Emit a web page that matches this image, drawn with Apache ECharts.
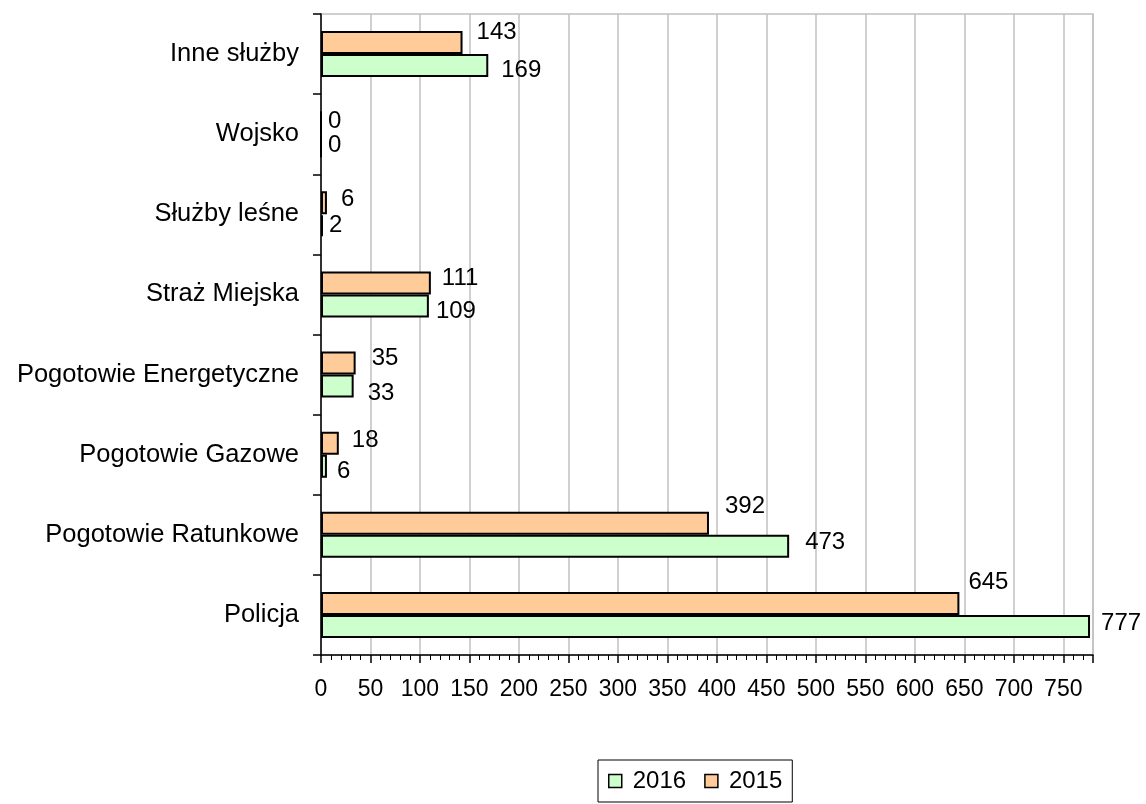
<!DOCTYPE html>
<html>
<head>
<meta charset="utf-8">
<script src="https://cdn.jsdelivr.net/npm/echarts@6/dist/echarts.min.js"></script>
<style>
html,body{margin:0;padding:0;background:#fff;}
#chart{width:1146px;height:804px;}
</style>
</head>
<body>
<div id="chart"></div>
<script>
// Categories listed bottom-to-top (ECharts category y axis starts at the bottom)
const categories = ['Policja', 'Pogotowie Ratunkowe', 'Pogotowie Gazowe', 'Pogotowie Energetyczne', 'Straż Miejska', 'Służby leśne', 'Wojsko', 'Inne służby'];
const values2016 = [777, 473, 6, 33, 109, 2, 0, 169];
const values2015 = [645, 392, 18, 35, 111, 6, 0, 143];
const seriesNames = ['2016', '2015'];
const xTickInterval = 50;
const xMax = 780;

// label placement tweaks (dx from bar end, dy from bar centre), same order as categories
const labelOffset2016 = [[11,-3],[16,-3.5],[10,5.5],[14,7],[7,5.5],[6,0],[6,0],[13,4.5]];
const labelOffset2015 = [[9,-21],[16,-16.5],[13,-2.5],[16,-5],[11,-5],[14,-3],[6,-1],[14,-10]];

const FONT = "'Liberation Sans', Arial, sans-serif";

function withLabels(values, offsets) {
  return values.map((v, i) => ({ value: v, label: { offset: offsets[i] } }));
}

const chart = echarts.init(document.getElementById('chart'), null, { renderer: 'canvas' });

const barLabel = {
  show: true,
  position: 'right',
  distance: 0,
  color: '#000',
  fontSize: 24,
  fontFamily: FONT
};

chart.setOption({
  animation: false,
  backgroundColor: '#fff',
  textStyle: { fontFamily: FONT },
  grid: {
    left: 321, right: 53, top: 14, bottom: 149,
    show: true, borderColor: '#C0C0C0', borderWidth: 1.5, backgroundColor: 'transparent'
  },
  legend: {
    data: seriesNames,
    left: 598, top: 760,
    orient: 'horizontal',
    icon: 'rect',
    itemWidth: 13, itemHeight: 13, itemGap: 18,
    borderColor: '#000', borderWidth: 1,
    padding: [9, 10, 9, 10],
    itemStyle: { borderColor: '#000', borderWidth: 1.5 },
    textStyle: { fontSize: 24, color: '#000', fontFamily: FONT, padding: [0, 0, 0, 6] }
  },
  xAxis: {
    type: 'value',
    min: 0, max: xMax, interval: xTickInterval,
    axisLine: { show: true, lineStyle: { color: '#000', width: 1.5 } },
    axisTick: { show: true, length: 8, lineStyle: { color: '#000', width: 1.5 } },
    minorTick: { show: true, splitNumber: 5, length: 5, lineStyle: { color: '#000', width: 1 } },
    splitLine: { show: true, lineStyle: { color: '#C0C0C0', width: 1.5 } },
    axisLabel: { showMaxLabel: false, margin: 23, fontSize: 23, color: '#000', fontFamily: FONT }
  },
  yAxis: {
    type: 'category',
    data: categories,
    axisLine: { show: true, lineStyle: { color: '#000', width: 1.5 } },
    axisTick: { show: true, length: 8, lineStyle: { color: '#000', width: 1.5 } },
    splitLine: { show: false },
    axisLabel: { margin: 22, fontSize: 25.5, color: '#000', fontFamily: FONT }
  },
  series: [
    {
      name: seriesNames[1],
      type: 'bar',
      data: withLabels(values2015, labelOffset2015),
      barWidth: 23,
      barGap: '0%',
      itemStyle: { color: '#FFCC99', borderColor: '#000', borderWidth: 2 },
      label: barLabel
    },
    {
      name: seriesNames[0],
      type: 'bar',
      data: withLabels(values2016, labelOffset2016),
      barWidth: 23,
      barGap: '0%',
      itemStyle: { color: '#CCFFCC', borderColor: '#000', borderWidth: 2 },
      label: barLabel
    }
  ]
});
</script>
</body>
</html>
